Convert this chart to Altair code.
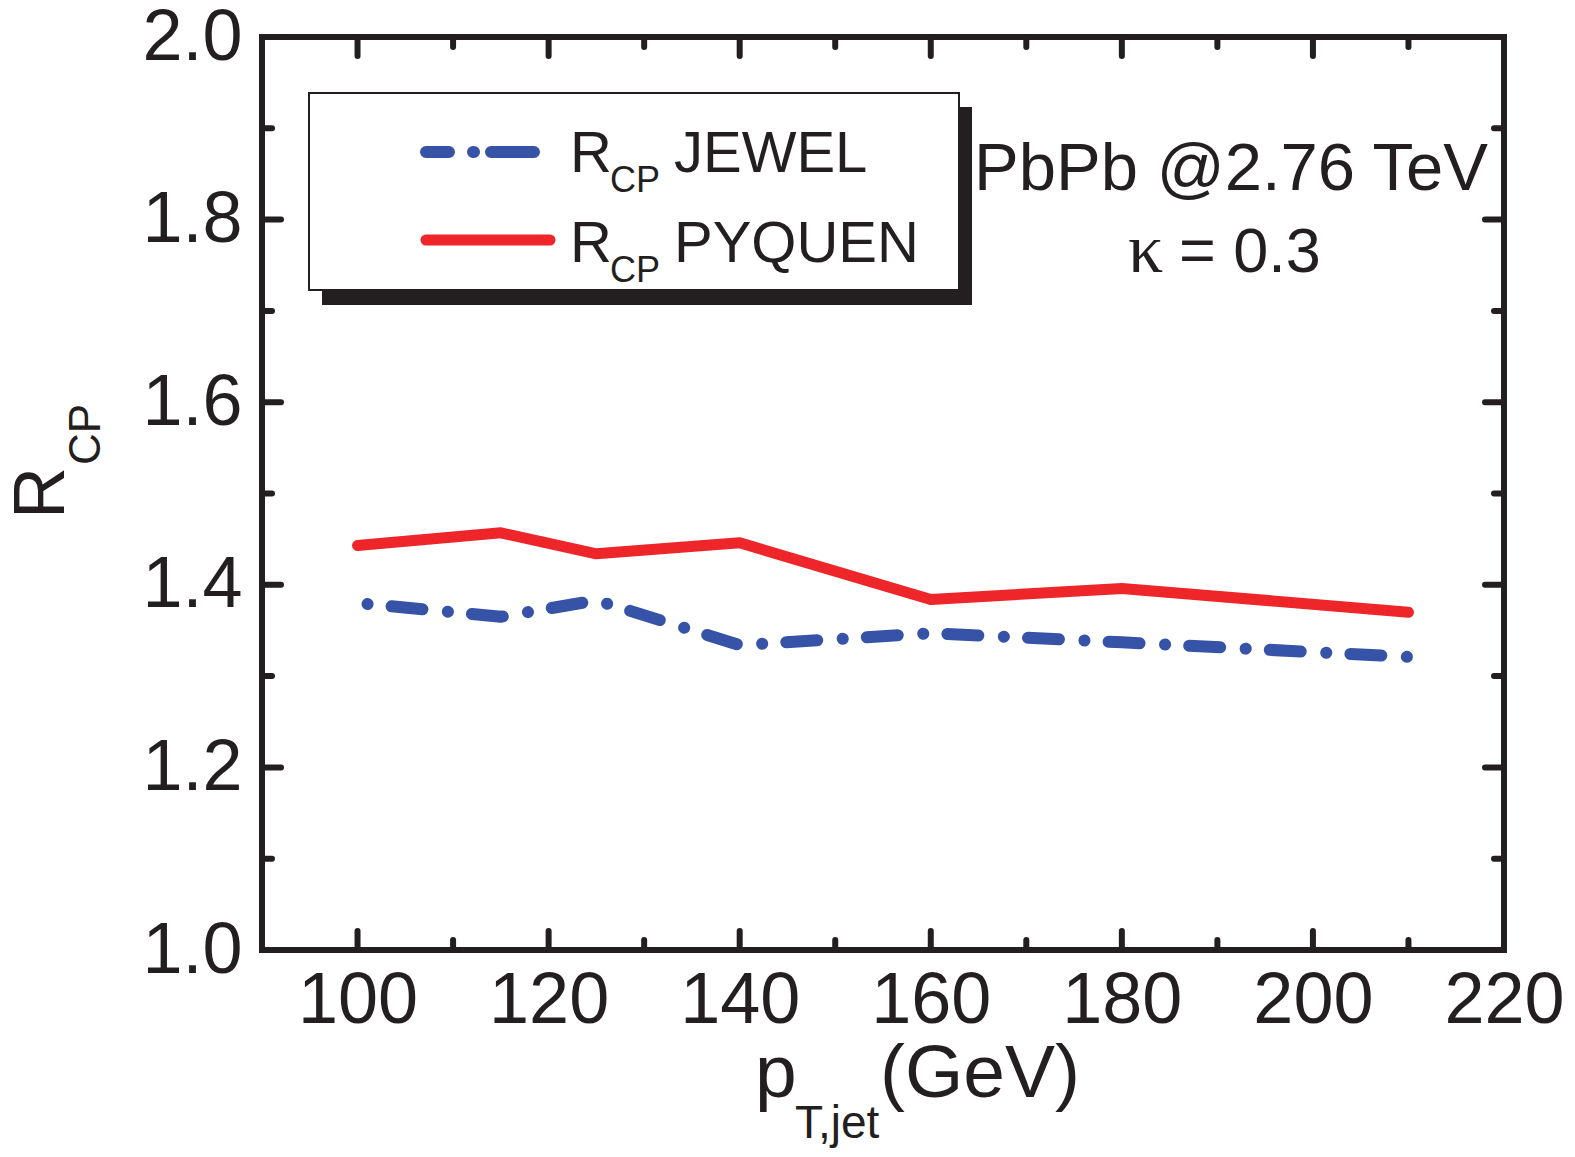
import altair as alt
import pandas as pd

# ---- data ----
pt = [100, 115, 125, 140, 160, 180, 210]
jewel = [1.380, 1.365, 1.383, 1.334, 1.347, 1.337, 1.321]
pyquen = [1.443, 1.457, 1.434, 1.446, 1.384, 1.396, 1.370]

x_major = [100, 120, 140, 160, 180, 200, 220]
x_minor = [110, 130, 150, 170, 190, 210]
y_major = [1.0, 1.2, 1.4, 1.6, 1.8, 2.0]
y_minor = [1.1, 1.3, 1.5, 1.7, 1.9]

# ---- style ----
W, H = 1242, 913
INK = "#231F20"
BLUE = "#3653A8"
RED = "#EE2529"
FONT = "Liberation Sans"
SERIF = "Liberation Serif"
MAJ, MIN = 19, 10

xs = alt.Scale(domain=[90, 220], nice=False, zero=False)
ys = alt.Scale(domain=[1.0, 2.0], nice=False, zero=False)
XA = alt.Axis(values=x_major, format="d", title=None)
YA = alt.Axis(values=y_major, format=".1f", title=None)

df = pd.DataFrame({"pt": pt, "jewel": jewel, "pyquen": pyquen})

red_line = alt.Chart(df).mark_line(color=RED, strokeWidth=11, strokeCap="round", strokeJoin="round").encode(
    x=alt.X("pt:Q", scale=xs, axis=XA),
    y=alt.Y("pyquen:Q", scale=ys, axis=YA),
)
blue_line = alt.Chart(df).mark_line(color=BLUE, strokeWidth=12, strokeCap="round", strokeJoin="round",
                                    strokeDash=[31, 25.5, 0.1, 24.1], strokeDashOffset=46.5).encode(
    x=alt.X("pt:Q", scale=xs, axis=XA),
    y=alt.Y("jewel:Q", scale=ys, axis=YA),
)


def xticks(vals, length):
    d = pd.DataFrame({"v": vals})
    base = alt.Chart(d).mark_rule(color=INK, strokeWidth=6, strokeCap="round")
    bottom = base.encode(x=alt.X("v:Q", scale=xs, axis=XA), y=alt.value(H), y2=alt.value(H - length))
    top = base.encode(x=alt.X("v:Q", scale=xs, axis=XA), y=alt.value(0), y2=alt.value(length))
    return [bottom, top]


def yticks(vals, length):
    d = pd.DataFrame({"v": vals})
    base = alt.Chart(d).mark_rule(color=INK, strokeWidth=6, strokeCap="round")
    left = base.encode(y=alt.Y("v:Q", scale=ys, axis=YA), x=alt.value(0), x2=alt.value(length))
    right = base.encode(y=alt.Y("v:Q", scale=ys, axis=YA), x=alt.value(W), x2=alt.value(W - length))
    return [left, right]


one = alt.Data(values=[{}])


def txt(s, x, y, size, align="left", angle=0, font=FONT):
    return alt.Chart(one).mark_text(text=s, fontSize=size, font=font, color=INK, align=align,
                                    baseline="alphabetic", angle=angle).encode(
        x=alt.value(x), y=alt.value(y))


def rect(x1, x2, y1, y2, fill, stroke=None, sw=0):
    kw = dict(fill=fill)
    if stroke:
        kw.update(stroke=stroke, strokeWidth=sw)
    return alt.Chart(one).mark_rect(**kw).encode(
        x=alt.value(x1), x2=alt.value(x2), y=alt.value(y1), y2=alt.value(y2))


def seg(x1, x2, y, color, width, dash=None, offset=0):
    kw = dict(color=color, strokeWidth=width, strokeCap="round")
    if dash:
        kw.update(strokeDash=dash, strokeDashOffset=offset)
    return alt.Chart(one).mark_rule(**kw).encode(x=alt.value(x1), x2=alt.value(x2), y=alt.value(y))


layers = [red_line, blue_line]
layers += xticks(x_major, MAJ) + xticks(x_minor, MIN)
layers += yticks(y_major, MAJ) + yticks(y_minor, MIN)

# legend box
layers += [
    rect(60, 710, 70, 268, INK),
    rect(47, 697, 56, 253, "white", INK, 2),
    seg(164, 272, 115, BLUE, 12, [23, 24, 1, 17, 200], 0),
    seg(164, 288, 203, RED, 11),
    txt("R", 308, 135, 58), txt("CP", 348, 155, 36), txt("JEWEL", 412, 135, 58),
    txt("R", 308, 225, 58), txt("CP", 348, 245, 36), txt("PYQUEN", 412, 225, 58),
]

# annotation
layers += [
    txt("PbPb @2.76 TeV", 969, 153, 67, align="center"),
    txt("\u03ba", 866, 235, 70, font=SERIF),
    txt("= 0.3", 917, 235, 63),
]

# axis titles
layers += [
    txt("p", 493, 1060, 75),
    txt("T,jet", 533, 1101, 46),
    txt("(GeV)", 618, 1060, 75),
    txt("R", -198, 482, 72, angle=270),
    txt("CP", -162, 428, 44, angle=270),
]

chart = alt.layer(*layers).properties(
    width=W, height=H,
    padding={"left": 254, "top": 29, "right": 62, "bottom": 198},
    autosize=alt.AutoSizeParams(type="none"),
).configure_view(stroke=INK, strokeWidth=6).configure_axis(
    domain=False, ticks=False, grid=False, labelFont=FONT, labelFontSize=72, labelColor=INK,
    labelFlush=False, labelOverlap=False,
).configure_axisX(labelPadding=15).configure_axisY(labelPadding=20)

chart.save("out.html", embed_options={"renderer": "svg", "actions": False})
